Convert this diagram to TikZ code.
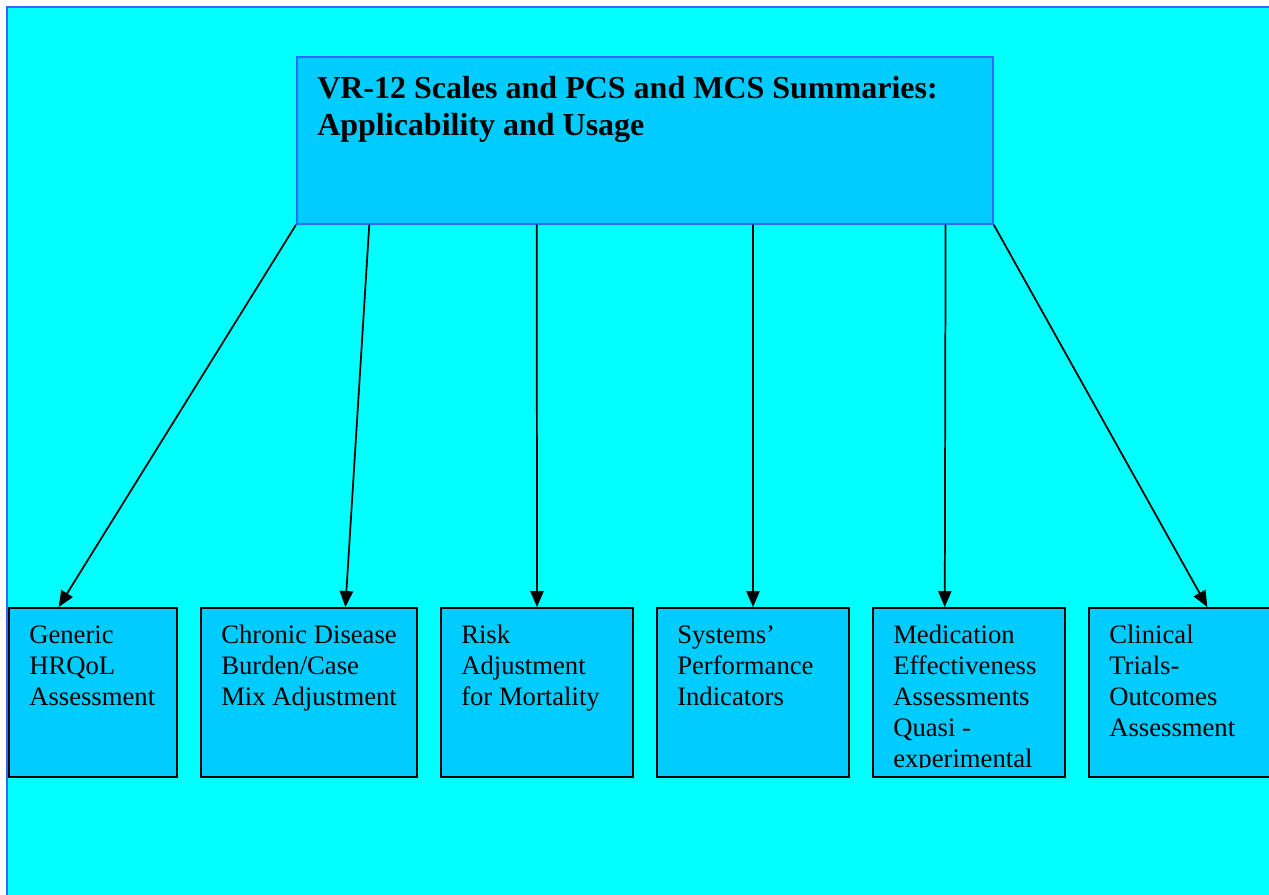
\documentclass[tikz,border=0pt]{standalone}
\usepackage{fontspec}
\setmainfont{Liberation Serif}
\usetikzlibrary{arrows.meta,calc}
\definecolor{cSKY}{HTML}{00FFFF}
\definecolor{cBOX}{HTML}{00CCFF}
\definecolor{cRIM}{HTML}{3366FF}

\begin{document}
\begin{tikzpicture}[x=0.75pt, y=-0.75pt, >={Triangle[length=12pt,width=10pt]},
  usebox/.style={draw=black, line width=1.5pt, fill=cBOX, minimum height=126.75pt, anchor=north west, inner sep=0pt},
  boxtext/.style={anchor=north west, align=left, inner sep=0pt, font=\fontsize{20}{23.25}\selectfont},
  link/.style={->, line width=1.3pt}]
\clip (0,0) rectangle (1269,894);
\fill[white] (0,0) rectangle (1269,894);
\draw[cRIM, line width=1.8pt, fill=cSKY] (7,7) rectangle (1300,920);
% title box
\node[draw=cRIM, line width=1.3pt, fill=cBOX, anchor=north west, minimum width=522pt, minimum height=125.25pt, inner sep=0pt] (title) at (296,56) {};
\node[boxtext, font=\bfseries\fontsize{24}{27.75}\selectfont] (title-t) at ([xshift=15.75pt,yshift=-15pt]title.north west) {VR-12 Scales and PCS and MCS Summaries:\\Applicability and Usage};
% usage boxes
\node[usebox, minimum width=126pt] (gen) at (8,607) {};
\node[usebox, minimum width=162pt] (cdb) at (200,607) {};
\node[usebox, minimum width=144pt] (risk) at (440,607) {};
\node[usebox, minimum width=144pt] (sys) at (656,607) {};
\node[usebox, minimum width=144pt] (med) at (872,607) {};
\node[usebox, minimum width=144pt] (cli) at (1088,607) {};
\node[boxtext] (gen-t) at ([xshift=15.75pt,yshift=-14pt]gen.north west) {Generic\\HRQoL\\Assessment};
\node[boxtext] (cdb-t) at ([xshift=15.75pt,yshift=-13.5pt]cdb.north west) {Chronic Disease\\Burden/Case\\Mix Adjustment};
\node[boxtext] (risk-t) at ([xshift=15.75pt,yshift=-13.5pt]risk.north west) {Risk\\Adjustment\\for Mortality};
\node[boxtext] (sys-t) at ([xshift=15.75pt,yshift=-13.5pt]sys.north west) {Systems’\\Performance\\Indicators};
\begin{scope}
\clip (med.north west) rectangle ([yshift=8pt]med.south east);
\node[boxtext] (med-t) at ([xshift=15.75pt,yshift=-13.5pt]med.north west) {Medication\\Effectiveness\\Assessments\\Quasi -\\experimental};
\end{scope}
\node[boxtext] (cli-t) at ([xshift=15.75pt,yshift=-13.5pt]cli.north west) {Clinical\\Trials-\\Outcomes\\Assessment};
% arrows
\draw[link] (title.south west) -- ($(gen.north west)!0.298!(gen.north east)$);
\draw[link] ($(title.south west)!0.105!(title.south east)$) -- ($(cdb.north west)!0.667!(cdb.north east)$);
\draw[link] ($(title.south west)!0.345!(title.south east)$) -- (risk.north);
\draw[link] ($(title.south west)!0.655!(title.south east)$) -- (sys.north);
\draw[link] ($(title.south west)!0.931!(title.south east)$) -- ($(med.north west)!0.375!(med.north east)$);
\draw[link] (title.south east) -- ($(cli.north west)!0.615!(cli.north east)$);
\end{tikzpicture}
\end{document}
